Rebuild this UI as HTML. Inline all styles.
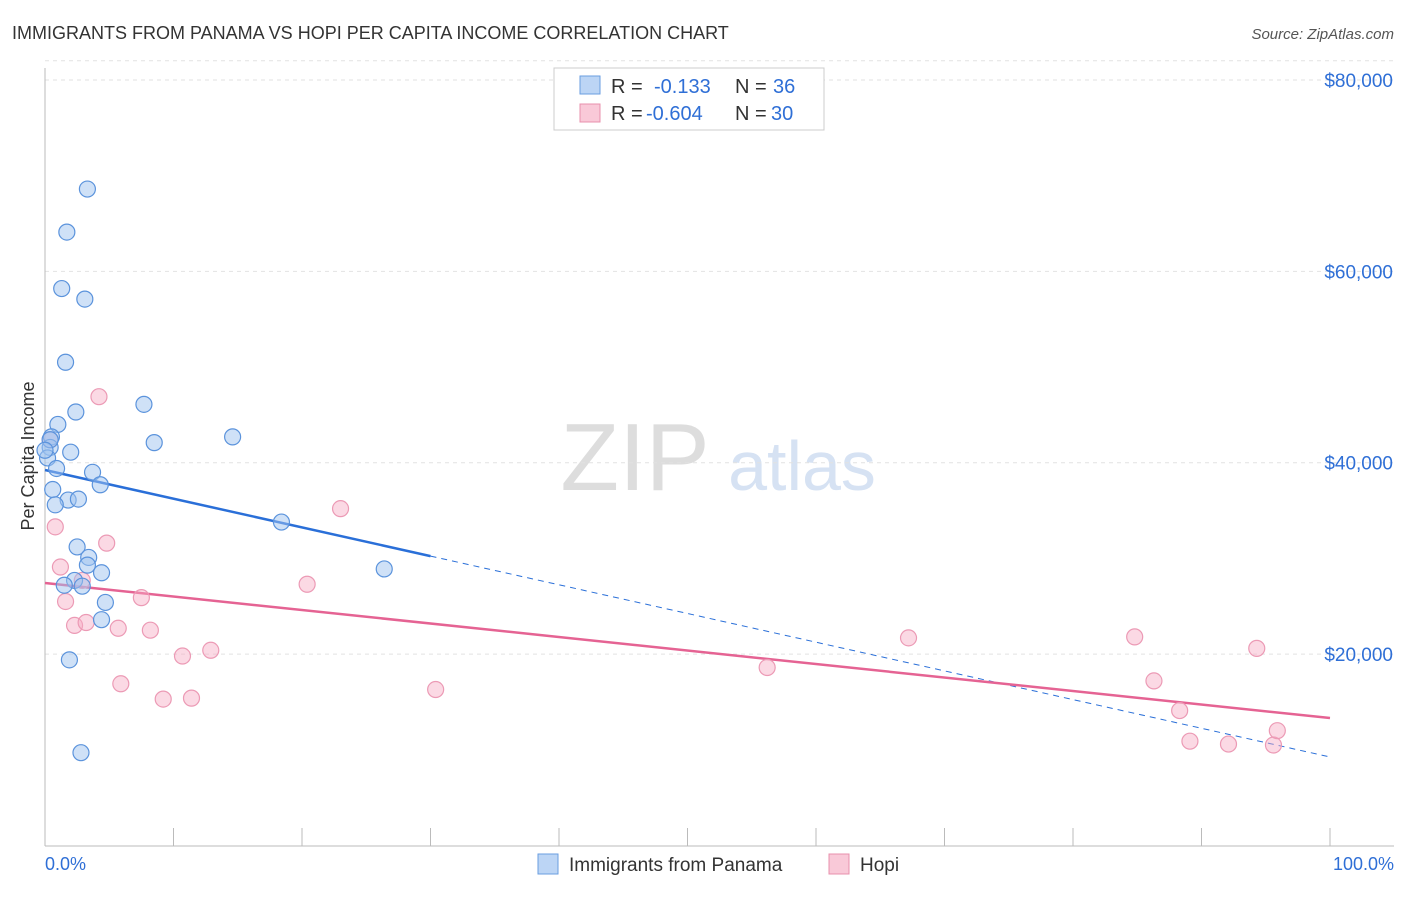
<!DOCTYPE html>
<html><head><meta charset="utf-8"><style>
body{margin:0;background:#fff;font-family:"Liberation Sans",sans-serif}
svg text{font-family:"Liberation Sans",sans-serif}
</style></head><body>
<svg id="c" width="1406" height="892" xmlns="http://www.w3.org/2000/svg">
<text x="12" y="39" font-size="18" fill="#333">IMMIGRANTS FROM PANAMA VS HOPI PER CAPITA INCOME CORRELATION CHART</text>
<text x="1394" y="39" font-size="15" fill="#555" text-anchor="end" font-style="italic">Source: ZipAtlas.com</text>
<text x="34" y="456" font-size="18" fill="#333" text-anchor="middle" transform="rotate(-90 34 456)">Per Capita Income</text>
<g><text x="635" y="490" font-size="96" fill="#ddd" font-family="Liberation Serif" text-anchor="middle">ZIP</text><text x="802" y="490" font-size="70" fill="#d6e2f3" text-anchor="middle">atlas</text></g>
<g id="grid"></g><g id="axes"></g><g id="trends"></g><g id="pts"></g>
<g>
<rect x="554" y="68" width="270" height="62" fill="#fff" stroke="#ccc"/>
<rect x="580" y="76" width="20" height="18" fill="#bcd5f5" stroke="#6a9ee0"/>
<text x="611" y="93" font-size="20" fill="#333">R =</text><text x="654" y="93" font-size="20" fill="#2f6fd6">-0.133</text>
<text x="735" y="93" font-size="20" fill="#333">N =</text><text x="773" y="93" font-size="20" fill="#2f6fd6">36</text>
<rect x="580" y="104" width="20" height="18" fill="#f9c9d8" stroke="#e890ac"/>
<text x="611" y="120" font-size="20" fill="#333">R =</text><text x="646" y="120" font-size="20" fill="#2f6fd6">-0.604</text>
<text x="735" y="120" font-size="20" fill="#333">N =</text><text x="771" y="120" font-size="20" fill="#2f6fd6">30</text>
</g>
<g>
<rect x="538" y="854" width="20" height="20" fill="#bcd5f5" stroke="#6a9ee0"/>
<text x="569" y="871" font-size="19" fill="#333">Immigrants from Panama</text>
<rect x="829" y="854" width="20" height="20" fill="#f9c9d8" stroke="#e890ac"/>
<text x="860" y="871" font-size="19" fill="#333">Hopi</text>
</g>
<text x="45" y="870" font-size="18" fill="#2f6fd6">0.0%</text>
<text x="1394" y="870" font-size="18" fill="#2f6fd6" text-anchor="end">100.0%</text>
</svg>
<script>
const yTicks=[20000,40000,60000,80000];
const yTickLabels=["$20,000","$40,000","$60,000","$80,000"];
const blueX=[3.3,1.7,1.3,3.1,1.6,7.7,2.4,8.5,14.6,1.0,0.5,0.4,2.0,0.2,0.9,3.7,4.3,0.6,1.8,2.6,0.8,18.4,2.5,3.4,3.3,4.4,2.3,1.5,2.9,4.7,4.4,1.9,26.4,2.8,0.4,0.0];
const blueY=[68600,64100,58200,57100,50500,46100,45300,42100,42700,44000,42700,41600,41100,40500,39400,39000,37700,37200,36100,36200,35600,33800,31200,30100,29300,28500,27700,27200,27100,25400,23600,19400,28900,9700,42400,41300];
const pinkX=[4.2,23.0,0.8,4.8,1.2,2.9,20.4,1.6,7.5,2.3,3.2,5.7,8.2,10.7,12.9,5.9,9.2,11.4,30.4,56.2,67.2,84.8,94.3,86.3,88.3,89.1,92.1,95.6,95.9,0.4];
const pinkY=[46900,35200,33300,31600,29100,27700,27300,25500,25900,23000,23300,22700,22500,19800,20400,16900,15300,15400,16300,18600,21700,21800,20600,17200,14100,10900,10600,10500,12000,42400];
const blueTrend=[39240,9250]; const blueSolidEnd=30;
const pinkTrend=[27430,13320];
const X=v=>45+v*12.85, Y=v=>845.5-v/104.5;
const NS="http://www.w3.org/2000/svg";
function mk(t,p,a){const e=document.createElementNS(NS,t);for(const k in a)e.setAttribute(k,a[k]);p.appendChild(e);return e;}
const grid=document.getElementById('grid'),axes=document.getElementById('axes');
mk('line',grid,{x1:45,x2:1394,y1:Y(82000),y2:Y(82000),stroke:'#e2e2e2','stroke-dasharray':'4,4'});
yTicks.forEach((t,i)=>{
 const l=mk('line',grid,{x1:45,x2:1394,y1:Y(t),y2:Y(t),stroke:'#e2e2e2','stroke-dasharray':'4,4'});
 
 
 const tx=mk('text',axes,{x:1393,y:Y(t)+7,'font-size':19,fill:'#2f6fd6','text-anchor':'end'});
 tx.textContent=yTickLabels[i];
 
 
});
mk('line',axes,{x1:45,x2:45,y1:68,y2:846,stroke:'#bbb'});
mk('line',axes,{x1:45,x2:1394,y1:846,y2:846,stroke:'#bbb'});
for(let i=0;i<=10;i++){const t=mk('line',axes,{x1:X(i*10),x2:X(i*10),y1:828,y2:846,stroke:'#bbb'});
 
 }
const tr=document.getElementById('trends');
const by=v=>blueTrend[0]+(blueTrend[1]-blueTrend[0])*v/100;
const bs=mk('line',tr,{x1:X(0),y1:Y(by(0)),x2:X(blueSolidEnd),y2:Y(by(blueSolidEnd)),stroke:'#2a6fd8','stroke-width':2.5});


const bd=mk('line',tr,{x1:X(blueSolidEnd),y1:Y(by(blueSolidEnd)),x2:X(100),y2:Y(by(100)),stroke:'#2a6fd8','stroke-width':1,'stroke-dasharray':'6,5'});


const pl=mk('line',tr,{x1:X(0),y1:Y(pinkTrend[0]),x2:X(100),y2:Y(pinkTrend[1]),stroke:'#e56393','stroke-width':2.5});


const pts=document.getElementById('pts');
pinkX.forEach((x,i)=>{const c=mk('circle',pts,{cx:X(x),cy:Y(pinkY[i]),r:8,fill:'rgba(246,170,195,0.45)',stroke:'#ec9ab5','stroke-width':1.2});
 
 });
blueX.forEach((x,i)=>{const c=mk('circle',pts,{cx:X(x),cy:Y(blueY[i]),r:8,fill:'rgba(160,195,240,0.5)',stroke:'#5b93dc','stroke-width':1.2});
 
 });
</script>
</body></html>
